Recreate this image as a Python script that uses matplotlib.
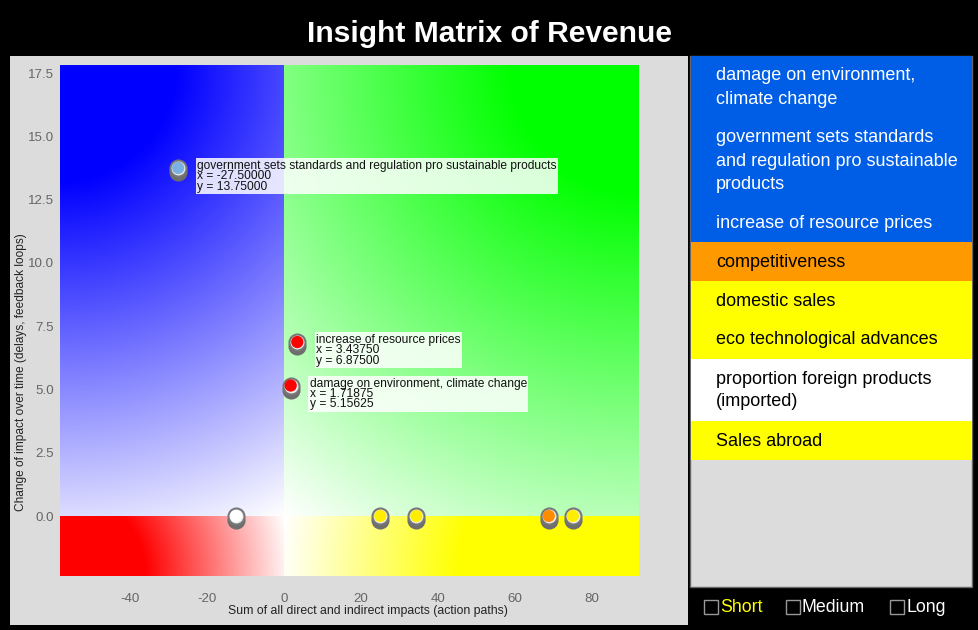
import numpy as np
import matplotlib
matplotlib.use("Agg")
import matplotlib.pyplot as plt
import matplotlib.transforms as mtransforms
from matplotlib.patches import Rectangle

plt.rcParams['font.family'] = ['Liberation Sans', 'DejaVu Sans']

# ---------------- data ----------------
title = "Insight Matrix of Revenue"
x_label = "Sum of all direct and indirect impacts (action paths)"
y_label = "Change of impact over time (delays, feedback loops)"

point_names = ["government sets standards and regulation pro sustainable products",
               "increase of resource prices",
               "damage on environment, climate change",
               "proportion foreign products (imported)",
               "domestic sales",
               "eco technological advances",
               "competitiveness",
               "Sales abroad"]
point_x = [-27.5, 3.4375, 1.71875, -12.5, 25.0, 34.375, 68.75, 75.0]
point_y = [13.75, 6.875, 5.15625, 0.0, 0.0, 0.0, 0.0, 0.0]
point_colors = ["#7ab0e2", "#ff0000", "#ff0000", "#ffffff", "#ffee00", "#ffee00", "#ff8c00", "#ffee00"]
point_annotated = [True, True, True, False, False, False, False, False]

x_ticks = [-40, -20, 0, 20, 40, 60, 80]
y_ticks = [0.0, 2.5, 5.0, 7.5, 10.0, 12.5, 15.0, 17.5]
x_range = (-58.2, 92.2)
y_range = (-2.37, 17.82)

legend_labels = ["damage on environment,\nclimate change",
                 "government sets standards\nand regulation pro sustainable\nproducts",
                 "increase of resource prices",
                 "competitiveness",
                 "domestic sales",
                 "eco technological advances",
                 "proportion foreign products\n(imported)",
                 "Sales abroad"]
legend_colors = ["#005ee6", "#005ee6", "#005ee6", "#ff9900", "#ffff00", "#ffff00", "#ffffff", "#ffff00"]
legend_text_colors = ["white", "white", "white", "black", "black", "black", "black", "black"]

horizon_labels = ["Short", "Medium", "Long"]
horizon_colors = ["#ffff00", "white", "white"]

# ---------------- figure ----------------
W, H = 979, 630
fig = plt.figure(figsize=(W / 100, H / 100), dpi=100, facecolor="black")


def fx(px):
    return px / W


def fy(py):
    return 1 - py / H


# left grey panel (background axes)
bg = fig.add_axes([fx(10), fy(625), fx(688) - fx(10), fy(56) - fy(625)], zorder=0)
bg.set_facecolor("#dcdcdc")
bg.set_xticks([])
bg.set_yticks([])
for s in bg.spines.values():
    s.set_visible(False)

fig.text(fx(490), fy(34), title, color="white", fontsize=21.6, fontweight="bold",
         ha="center", va="center")

ax_l, ax_r, ax_t, ax_b = 60, 639, 65, 576
ax = fig.add_axes([fx(ax_l), fy(ax_b), fx(ax_r) - fx(ax_l), fy(ax_t) - fy(ax_b)], zorder=2)
ax.set_xlim(*x_range)
ax.set_ylim(*y_range)
for s in ax.spines.values():
    s.set_visible(False)
ax.set_facecolor("none")

# gradient background (radial from each quadrant's far corner towards white origin)
wpx, hpx = ax_r - ax_l, ax_b - ax_t
sx = wpx / (x_range[1] - x_range[0])
sy = hpx / (y_range[1] - y_range[0])
gx = np.linspace(x_range[0], x_range[1], wpx)
gy = np.linspace(y_range[0], y_range[1], hpx)
X, Y = np.meshgrid(gx, gy)
img = np.ones((hpx, wpx, 3))
quads = [
    ((X < 0) & (Y >= 0), (x_range[0], y_range[1]), (0, 0, 1), 0.23),
    ((X >= 0) & (Y >= 0), (x_range[1], y_range[1]), (0, 1, 0), 0.22),
    ((X < 0) & (Y < 0), (x_range[0], y_range[0]), (1, 0, 0), 0.37),
    ((X >= 0) & (Y < 0), (x_range[1], y_range[0]), (1, 1, 0), 0.50),
]
for mask, (cx, cy), col, frac in quads:
    R = np.hypot(cx * sx, cy * sy)
    r0 = frac * R
    d = np.hypot((X - cx) * sx, (Y - cy) * sy)
    inten = np.clip((R - d) / (R - r0), 0, 1)
    for k in range(3):
        ch = 1 - inten * (1 - col[k])
        img[..., k] = np.where(mask, ch, img[..., k])
ax.imshow(img, extent=(x_range[0], x_range[1], y_range[0], y_range[1]), origin="lower",
          aspect="auto", interpolation="bilinear", zorder=0)

ax.set_xticks(x_ticks)
ax.set_yticks(y_ticks)
ax.set_xticklabels([f"{v:d}" for v in x_ticks])
ax.set_yticklabels([f"{v:.1f}" for v in y_ticks])
ax.tick_params(axis="both", length=0, labelsize=9.6, labelcolor="#666666")
ax.tick_params(axis="x", pad=12)
ax.tick_params(axis="y", pad=4)
ax.set_xlabel(x_label, fontsize=8.8, color="#222222", va="center")
ax.set_ylabel(y_label, fontsize=8.6, color="#222222", va="center")
ax.xaxis.set_label_coords((368 - ax_l) / wpx, (ax_b - 611) / hpx)
ax.yaxis.set_label_coords((21 - ax_l) / wpx, (ax_b - 372) / hpx)

# markers: shadow, grey ring, coloured core
shadow_tr = mtransforms.offset_copy(ax.transData, fig=fig, x=0, y=-4, units="dots")
ax.scatter(point_x, point_y, s=170, color="#6e6e6e", transform=shadow_tr, zorder=3, linewidths=0)
ax.scatter(point_x, point_y, s=170, color="#777777", zorder=4, linewidths=0)
ax.scatter(point_x, point_y, s=100, color="#eeeeee", zorder=5, linewidths=0)
ax.scatter(point_x, point_y, s=78, color=point_colors, zorder=6, linewidths=0)

for name, px_, py_, show in zip(point_names, point_x, point_y, point_annotated):
    if not show:
        continue
    txt = f"{name}\nx = {px_:.5f}\ny = {py_:.5f}"
    ax.annotate(txt, xy=(px_, py_), xytext=(19, 8), textcoords="offset pixels",
                ha="left", va="top", fontsize=8.65, color="#111111", linespacing=0.82,
                bbox=dict(boxstyle="square,pad=0.13", facecolor="white", alpha=0.85, edgecolor="none"),
                zorder=8)

# legend panel
leg_l, leg_r, leg_t, leg_b = 690, 972, 56, 587
fig.patches.append(Rectangle((fx(leg_l), fy(leg_b)), fx(leg_r) - fx(leg_l), fy(leg_t) - fy(leg_b),
                             transform=fig.transFigure, facecolor="#dcdcdc", edgecolor="#666666",
                             linewidth=1, zorder=1))
y = leg_t
for lab, col, tcol in zip(legend_labels, legend_colors, legend_text_colors):
    n = lab.count("\n") + 1
    h = 39 + 23 * (n - 1)
    fig.patches.append(Rectangle((fx(leg_l + 0.5), fy(y + h)), fx(leg_r - 0.5) - fx(leg_l + 0.5), fy(y) - fy(y + h),
                                 transform=fig.transFigure, facecolor=col, edgecolor="none", zorder=2))
    for i, line in enumerate(lab.split("\n")):
        fig.text(fx(716), fy(y + 20 + 23 * i), line, color=tcol, fontsize=13,
                 ha="left", va="center", zorder=3)
    y += h

# horizon checkboxes
box_x = [704, 786, 890]
for bx, lab, col in zip(box_x, horizon_labels, horizon_colors):
    fig.patches.append(Rectangle((fx(bx), fy(614)), fx(14), 14 / H, transform=fig.transFigure,
                                 facecolor="none", edgecolor="#999999", linewidth=1, zorder=3))
    fig.text(fx(bx + 16), fy(607), lab, color=col, fontsize=12.8, ha="left", va="center")

fig.savefig("out.png", dpi=100, facecolor="black")
